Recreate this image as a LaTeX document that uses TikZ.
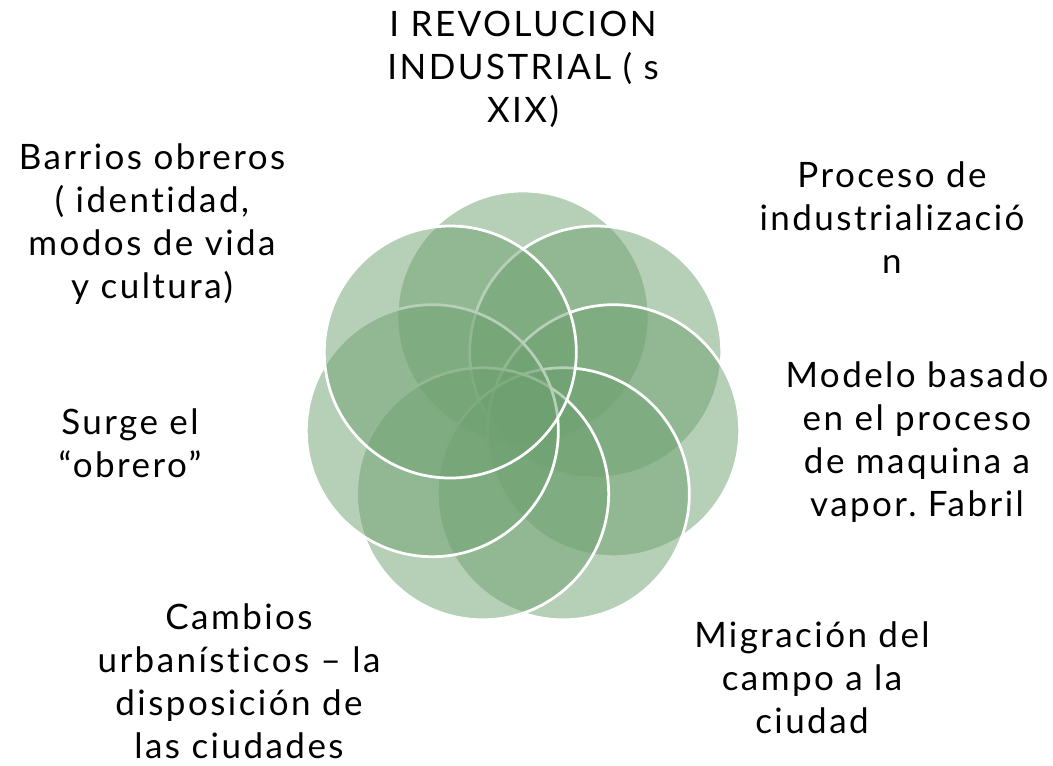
\documentclass[tikz,border=0pt]{standalone}
\usepackage{fontspec}
\setmainfont{Lato}[LetterSpace=7,Ligatures=NoCommon]
\definecolor{petalgreen}{RGB}{110,160,112}
\frenchspacing

\begin{document}
\begin{tikzpicture}[
  x=1pt,y=-1pt,
  font=\fontsize{35}{43}\selectfont,
  petal/.style={fill=petalgreen,fill opacity=0.5,draw=white,line width=2.75pt},
  txt/.style={align=center,inner sep=0pt,text=black,anchor=north}
]
\useasboundingbox (0,0) rectangle (1053,766);
% seven overlapping circles, clockwise from the top
\foreach \k in {0,...,6}{
  \pgfmathsetmacro{\ang}{90-\k*360/7}
  \draw[petal] ({523+93*cos(\ang)},{410-93*sin(\ang)}) circle[radius=126];
}
\node[txt] (revol) at (523,11) {I REVOLUCION\\INDUSTRIAL ( s\\XIX)};
\node[txt] (proceso) at (892,162) {Proceso de\\industrializació\\n};
\node[txt] (modelo) at (917,362) {Modelo basado\\en el proceso\\de maquina a\\vapor. Fabril};
\node[txt] (migra) at (812,622) {Migración del\\campo a la\\ciudad};
\node[txt] (cambios) at (239,604) {Cambios\\urbanísticos -- la\\disposición de\\las ciudades};
\node[txt] (surge) at (130,409) {Surge el\\“obrero”};
\node[txt] (barrios) at (152,144) {Barrios obreros\\( identidad,\\modos de vida\\y cultura)};
\end{tikzpicture}
\end{document}
